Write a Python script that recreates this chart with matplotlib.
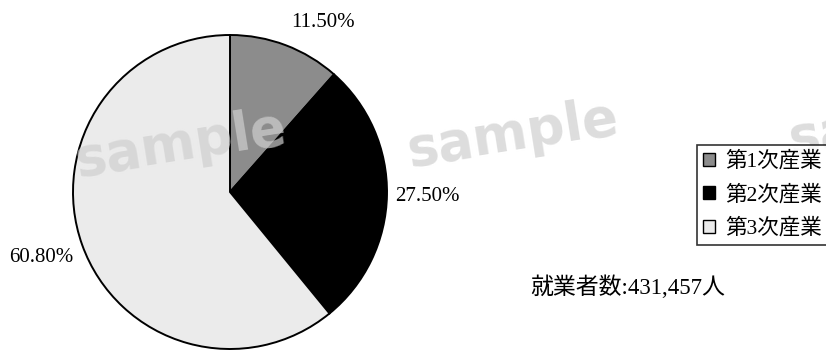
import matplotlib
matplotlib.use("Agg")
import matplotlib.pyplot as plt
from matplotlib.patches import Patch

plt.rcParams['font.family'] = ['Liberation Serif', 'Noto Sans CJK JP']

categories = ['第1次産業', '第2次産業', '第3次産業']
shares = [11.5, 27.5, 60.8]
colors = ['#8c8c8c', '#000000', '#ebebeb']
total_workers = 431457

W, H = 826, 350
fig = plt.figure(figsize=(W / 100, H / 100), dpi=100)

# pie axes: centre (230, 192) px, radius ~157 px
cx, cy, r = 230, 192, 157
ax = fig.add_axes([(cx - r) / W, (H - cy - r) / H, 2 * r / W, 2 * r / H])
wedges, _ = ax.pie(shares, colors=colors, startangle=90, counterclock=False,
                   wedgeprops=dict(edgecolor='black', linewidth=1.4))
ax.set_xlim(-1, 1)
ax.set_ylim(-1, 1)
ax.set_aspect('equal')
ax.axis('off')

# percentage labels, positioned in pie coordinates
label_pos = [(0.59, 1.08), (1.26, -0.03), (-1.20, -0.42)]
for (x, y), v in zip(label_pos, shares):
    ax.text(x, y, f'{v:.2f}%', ha='center', va='center', fontsize=15,
            clip_on=False)

# faint watermarks
for (x, y, s) in [(180, 145, 'sample'), (512, 135, 'sample'), (822, 135, 'sa')]:
    fig.text(x / W, 1 - y / H, s, fontsize=38, fontweight='bold',
             family='DejaVu Sans', color='#cfcfcf', alpha=0.7,
             rotation=9, ha='center', va='center', zorder=0)

handles = [Patch(facecolor=c, edgecolor='black', linewidth=1.0) for c in colors]
leg = fig.legend(handles, categories, loc='upper left',
                 bbox_to_anchor=(697 / W, 1 - 145 / H), frameon=True,
                 fancybox=False, edgecolor='black', fontsize=15.5,
                 handlelength=0.55, handleheight=0.55, handletextpad=0.45,
                 borderpad=0.3, labelspacing=0.6, borderaxespad=0)
leg.get_frame().set_linewidth(1.2)

fig.text(530 / W, 1 - 287 / H, f'就業者数:{total_workers:,}人', fontsize=16.5,
         ha='left', va='center')

fig.savefig('out.png', dpi=100)
